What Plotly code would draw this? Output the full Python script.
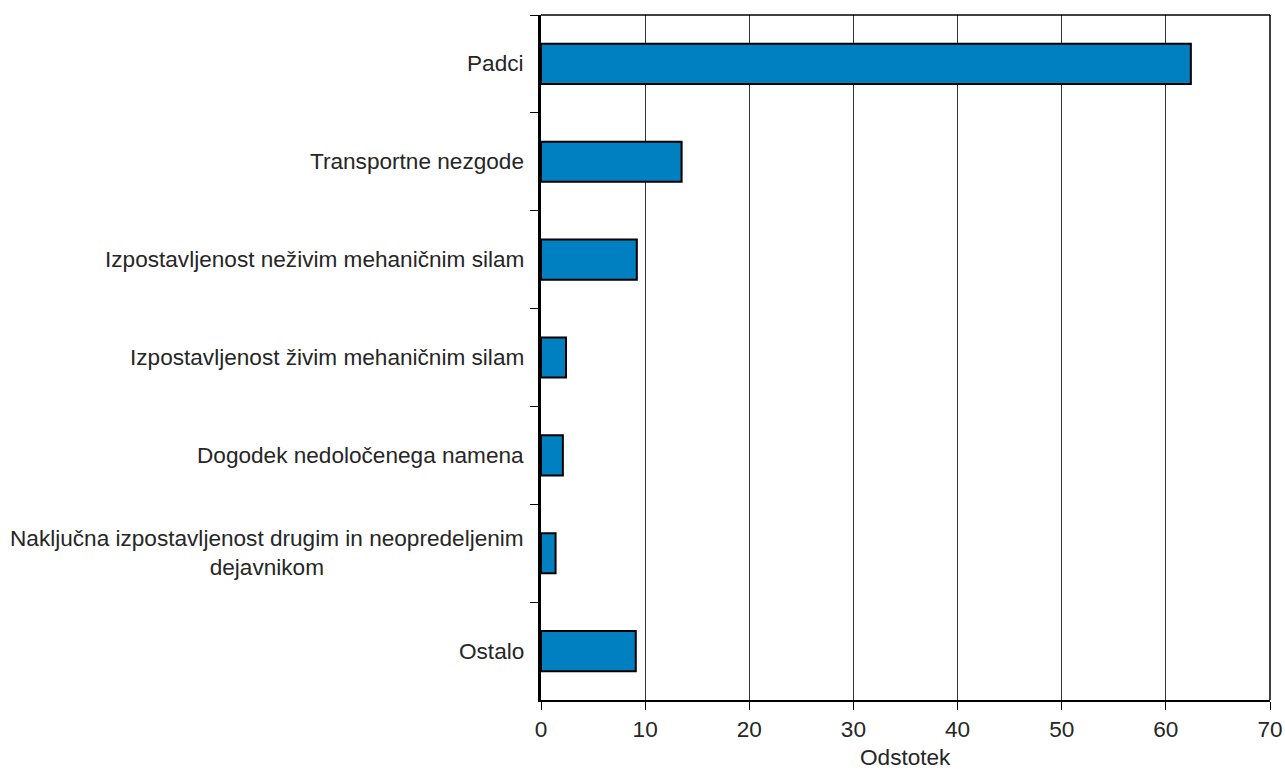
import plotly.graph_objects as go

categories = [
    "Padci",
    "Transportne nezgode",
    "Izpostavljenost neživim mehaničnim silam",
    "Izpostavljenost živim mehaničnim silam",
    "Dogodek nedoločenega namena",
    "Naključna izpostavljenost drugim in neopredeljenim<br>dejavnikom",
    "Ostalo",
]
values = [62.4, 13.5, 9.2, 2.4, 2.1, 1.4, 9.1]
x_ticks = [0, 10, 20, 30, 40, 50, 60, 70]
x_title = "Odstotek"

FONT = "Liberation Sans, Arial, sans-serif"
TXT = "#262626"
FS = 22.6

fig = go.Figure()
fig.add_trace(go.Bar(
    y=categories, x=values, orientation="h", width=0.41,
    marker=dict(color="#0080C0", line=dict(color="#000000", width=2)),
    hoverinfo="x+y",
))

annotations = []
for c in categories:
    annotations.append(dict(
        x=0, xref="paper", y=c, yref="y", text=c, showarrow=False,
        xanchor="right", yanchor="middle", align="center", xshift=-15,
        font=dict(family=FONT, size=FS, color=TXT),
    ))
annotations.append(dict(
    x=0.5, xref="paper", y=0, yref="paper", text=x_title, showarrow=False,
    xanchor="center", yanchor="top", yshift=-44, borderpad=0,
    font=dict(family=FONT, size=FS, color=TXT),
))

fig.update_layout(
    width=1285, height=773,
    margin=dict(l=541, r=15, t=15, b=73),
    plot_bgcolor="white", paper_bgcolor="white",
    showlegend=False,
    bargap=0.59,
    annotations=annotations,
    xaxis=dict(
        range=[0, 70], tickvals=x_ticks, ticks="outside", ticklen=8,
        tickcolor="#000", tickwidth=1, automargin=False,
        showgrid=True, gridcolor="#333333", gridwidth=1,
        showline=True, linecolor="#000", linewidth=2, mirror=False,
        zeroline=False,
        tickfont=dict(family=FONT, size=FS, color=TXT),
        fixedrange=True,
    ),
    yaxis=dict(
        type="category", categoryorder="array", categoryarray=categories,
        autorange="reversed", tickson="boundaries", automargin=False,
        ticks="outside", ticklen=8, tickcolor="#000", tickwidth=1,
        showticklabels=False, showgrid=False,
        showline=True, linecolor="#000", linewidth=2.5,
        fixedrange=True,
    ),
    shapes=[
        dict(type="line", xref="paper", yref="paper", x0=0, x1=1, y0=1, y1=1,
             line=dict(color="#000", width=1.5)),
        dict(type="line", xref="paper", yref="paper", x0=1, x1=1, y0=0, y1=1,
             line=dict(color="#000", width=1.5)),
    ],
)

fig.write_html("out.html", config={"displayModeBar": False},
               post_script="document.body.style.margin='0';")
